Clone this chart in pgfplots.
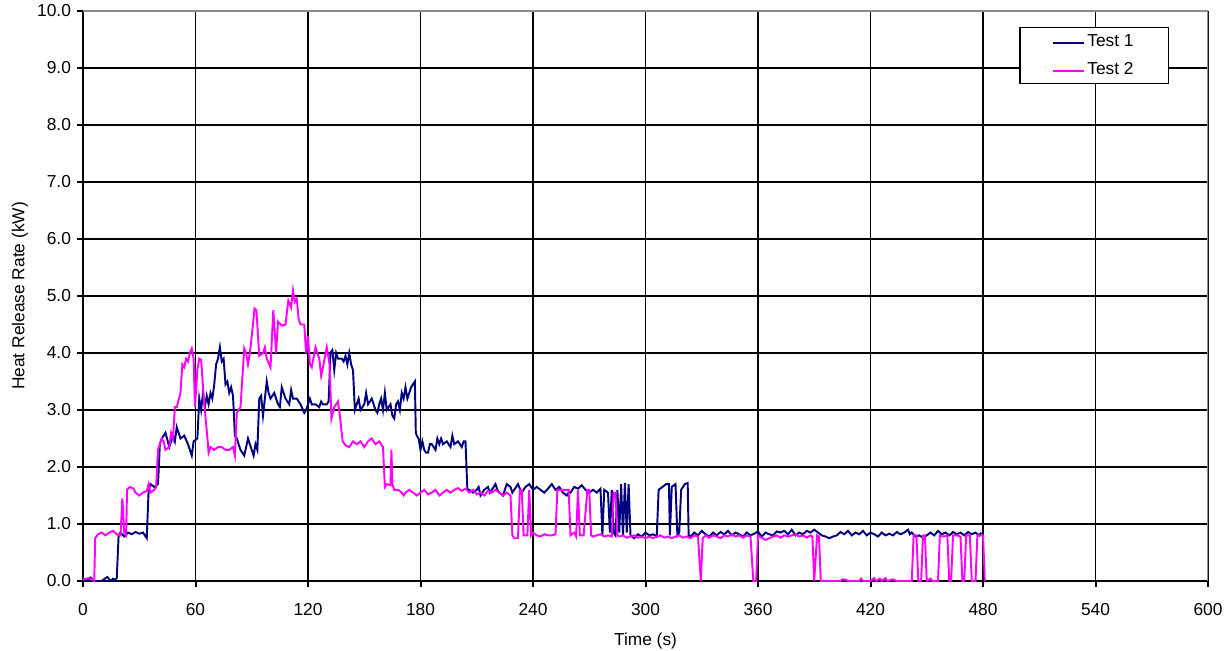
\documentclass[border=0pt]{standalone}
\usepackage{pgfplots}
\pgfplotsset{compat=1.18}
\usepackage{fontspec}
\setmainfont{Liberation Sans}
\definecolor{tnavy}{HTML}{000080}
\definecolor{tmag}{HTML}{FF00FF}
\begin{document}
\fontsize{13}{15.6}\selectfont
\begin{tikzpicture}
\begin{axis}[
  scale only axis,
  width=843.75pt, height=427.5pt,
  xmin=0, xmax=600, ymin=0, ymax=10,
  xtick={0,60,...,600}, ytick={0,1,...,10},
  axis x line*=bottom, axis y line*=left,
  axis line style={line width=1.5pt,-},
  tick align=outside, major tick length=4.5pt,
  tick style={line width=1.5pt,black},
  grid=major,
  major grid style={line width=0.9pt,black},
  /pgf/number format/assume math mode=true,
  yticklabel style={/pgf/number format/fixed,/pgf/number format/fixed zerofill,/pgf/number format/precision=1},
  xticklabel style={yshift=-7.5pt,/pgf/number format/fixed},
  every tick label/.append style={font=\fontsize{13}{15.6}\selectfont},
  xlabel={Time (s)}, ylabel={Heat Release Rate (kW)},
  xlabel style={yshift=-4pt},
  ylabel style={yshift=-2pt},
  label style={font=\fontsize{13}{15.6}\selectfont},
  legend style={at={(rel axis cs:0.9653,0.9719)}, anchor=north east,
    draw=black, line width=1.1pt, inner xsep=24pt, inner ysep=3pt, row sep=6pt,
    font=\fontsize{13}{15.6}\selectfont},
  legend cell align=left,
  legend image code/.code={\draw[#1] (0pt,-1pt) -- (23pt,-1pt);},
]
\addplot[tnavy, line width=1.45pt] coordinates {
(0,0) (3,0.02) (4,0.06) (5,0.03) (6,0) (10,0) (12,0.05) (13,0.07) (14,0.03) (15,0) (16,0.04) (17,0.02) (18,0.05)
(19,0.8) (20,0.85) (22,0.78) (24,0.85) (26,0.82) (28,0.86) (30,0.83) (32,0.85) (34,0.75)
(35,1.6) (36,1.7) (38,1.65) (40,1.7)
(41,2.4) (42,2.5) (44,2.6) (46,2.35) (48,2.55) (49,2.45) (50,2.7) (52,2.5) (54,2.55) (56,2.4) (58,2.2) (59,2.45) (61,2.5)
(62,3.2) (63,3.0) (64,3.3) (65,3.05) (66,3.25) (67,3.1) (68,3.3) (69,3.2) (70,3.45) (71,3.8) (72,3.9) (73,4.1) (74,3.85) (75,3.9) (76,3.45) (77,3.5) (78,3.3) (79,3.4) (80,3.25)
(81,2.55) (82,2.5) (84,2.3) (86,2.2) (88,2.5) (90,2.3) (91,2.2) (92,2.4) (93,2.3)
(94,3.2) (95,3.25) (96,2.9) (98,3.5) (99,3.3) (100,3.2) (102,3.3) (104,3.1) (105,3.05) (106,3.4) (108,3.2) (110,3.1) (111,3.35) (112,3.2) (114,3.2) (116,3.1) (118,2.95) (119,3.0) (120,3.1) (121,3.2) (122,3.1) (124,3.1) (126,3.05) (127,3.15) (128,3.1) (130,3.1) (131,3.15)
(132,4.0) (133,4.05) (134,3.7) (135,4.0) (136,3.9) (138,3.9) (139,3.85) (140,3.95) (141,3.8) (142,4.0) (143,3.8) (144,3.7)
(145,3.0) (146,3.1) (147,3.2) (148,3.0) (150,3.1) (151,3.3) (152,3.1) (154,3.2) (156,3.0) (157,2.95) (158,3.1) (159,3.2) (160,3.0) (161,3.3) (162,3.0) (164,3.1) (165,2.9) (166,2.85) (167,3.1) (168,3.15) (169,3.0) (170,3.3) (171,3.2) (172,3.4) (173,3.2) (174,3.3) (175,3.4) (176,3.45) (177,3.5)
(177.5,2.6) (178,2.55) (179,2.5) (180,2.3) (181,2.45) (182,2.3) (183,2.25) (184,2.25) (185,2.4) (186,2.4) (188,2.3) (189,2.5) (190,2.4) (191,2.5) (192,2.4) (194,2.45) (196,2.35) (197,2.55) (198,2.4) (200,2.45) (201,2.4) (202,2.35) (203,2.45) (204,2.45)
(205,1.6) (206,1.6) (208,1.55) (210,1.6) (211,1.65) (212,1.5) (214,1.6) (216,1.65) (217,1.55) (218,1.6) (220,1.7) (221,1.6) (222,1.55) (224,1.5) (226,1.7) (228,1.65) (229,1.55) (230,1.6) (232,1.7) (233,1.62) (234,1.55) (236,1.65) (238,1.7) (240,1.6) (242,1.65) (244,1.6) (246,1.55) (248,1.62) (250,1.7) (252,1.6) (254,1.65) (256,1.55) (258,1.5) (259,1.55) (260,1.55) (262,1.65) (264,1.62) (266,1.68) (268,1.6) (270,1.55) (272,1.6) (274,1.55) (276,1.62)
(277,0.8) (278,1.6) (280,1.55) (281,0.85) (282,1.6) (283,0.85) (284,0.8) (285,1.6) (286,0.85) (287,1.7) (288,0.8) (289,1.72) (290,0.85) (291,1.7) (292,0.8)
(294,0.75) (296,0.82) (298,0.78) (300,0.85) (302,0.8) (304,0.82) (306,0.78)
(307,1.6) (309,1.65) (311,1.7) (312.5,1.7) (313,0.8) (314,1.65) (316,1.7) (317,0.8) (318,0.85) (319,1.6) (321,1.7) (322.5,1.72) (323,0.8)
(324,0.78) (326,0.85) (328,0.8) (330,0.88) (332,0.82) (334,0.78) (336,0.85) (338,0.8) (340,0.86) (342,0.82) (344,0.88) (346,0.8) (348,0.85) (350,0.82) (352,0.78) (354,0.85) (356,0.8) (358,0.83) (360,0.87) (362,0.78) (364,0.85) (366,0.82) (368,0.8) (370,0.87) (372,0.85) (374,0.88) (376,0.82) (378,0.9) (380,0.8) (382,0.85) (384,0.82) (386,0.88) (388,0.85) (390,0.9) (392,0.85) (394,0.8) (396,0.78) (398,0.75) (400,0.78) (402,0.8) (404,0.86) (406,0.82) (408,0.88) (410,0.8) (412,0.85) (414,0.82) (416,0.88) (418,0.8) (420,0.85) (422,0.82) (424,0.78) (426,0.85) (428,0.8) (430,0.83) (432,0.8) (434,0.86) (436,0.82) (438,0.85) (440,0.9) (441,0.82) (442,0.85) (444,0.78) (446,0.8) (448,0.76) (450,0.8) (452,0.85) (454,0.8) (456,0.88) (458,0.82) (460,0.85) (462,0.8) (464,0.86) (466,0.82) (468,0.85) (470,0.8) (472,0.86) (474,0.82) (476,0.85) (478,0.8) (479,0.85)
};
\addlegendentry{Test 1}
\addplot[tmag, line width=1.45pt] coordinates {
(0,0.03) (3,0.05) (5,0.02) (6,0) (6.5,0.75) (8,0.82) (10,0.85) (12,0.8) (14,0.85) (16,0.88) (18,0.82) (20,0.8) (21,1.45) (22,0.85) (23,0.8)
(23.5,1.6) (25,1.65) (27,1.62) (28,1.55) (30,1.5) (32,1.55) (34,1.58) (35,1.7) (36,1.55) (38,1.6) (39,1.65)
(40,2.3) (41,2.4) (42,2.5) (43,2.45) (44,2.3) (46,2.35) (47,2.6) (48,2.5)
(49,3.05) (50,3.05) (52,3.3) (53,3.8) (54,3.75) (55,3.9) (56,3.85) (57,4.0) (58,4.08) (59,3.9) (59.7,3.05) (60,3.2) (61,3.7) (62,3.9) (63,3.88) (64,3.4) (65,3.0)
(66.5,2.45) (67,2.25) (68,2.35) (70,2.3) (72,2.35) (74,2.35) (76,2.3) (78,2.3) (80,2.35) (81,2.2)
(82,2.95) (84,3.05) (86,4.08) (87,4.0) (88,3.8) (89,4.0) (90,4.3) (91.5,4.78) (92.5,4.75) (94,3.95) (96,4.0) (97,4.1) (98,3.9) (100,3.75) (101.5,4.75) (103,4.0) (104,4.55) (106,4.48) (108,4.5) (109.5,4.92) (111,4.8) (112,5.1) (113,4.9) (114,4.95) (115,4.6) (116,4.5) (118,4.5) (119,4.0) (120,4.3) (121,3.8) (122,3.75) (124,4.1) (126,3.9) (127,3.6) (128,3.75) (130,4.1) (131.5,3.8)
(132.5,2.85) (134,3.05) (136,3.15) (137,2.9)
(138.5,2.45) (140,2.38) (142,2.35) (144,2.45) (146,2.4) (148,2.45) (150,2.35) (152,2.45) (154,2.5) (156,2.4) (158,2.45) (159,2.4) (160,2.35)
(161,1.65) (162,1.7) (164,1.68) (164.5,2.3) (165,1.7) (166,1.6) (168,1.6) (170,1.55) (171,1.5) (172,1.55) (174,1.6) (176,1.55) (178,1.5) (180,1.55) (182,1.6) (184,1.52) (186,1.55) (188,1.6) (190,1.5) (192,1.55) (194,1.6) (196,1.55) (198,1.6) (200,1.63) (202,1.58) (204,1.62) (206,1.55) (208,1.6) (210,1.52) (212,1.55) (214,1.5) (216,1.58) (218,1.55) (220,1.6) (222,1.55) (224,1.5) (226,1.55) (228,1.5)
(229,0.8) (230,0.75) (232,0.75) (233,1.6) (234,1.6) (235,0.8) (236,0.8) (237,0.8) (238,1.6) (239,0.8) (240,0.85) (242,0.8) (244,0.78) (246,0.82) (248,0.8) (250,0.8) (252,0.82)
(253,1.6) (256,1.6) (259,1.6) (260,0.8) (262,0.85) (263,0.78) (264,1.6) (265,0.8) (267,0.8) (269,1.6) (270,1.6) (271,0.8) (272,0.78) (274,0.8) (276,0.82) (278,0.78) (280,0.8) (282,0.78) (283,1.55) (284,1.55) (285,0.8)
(286,0.78) (288,0.8) (290,0.76) (292,0.78) (294,0.8) (296,0.76) (298,0.78) (300,0.75) (302,0.78) (304,0.75) (306,0.78) (308,0.8) (310,0.76) (312,0.78) (314,0.75) (316,0.78) (318,0.8) (320,0.76) (322,0.78) (324,0.75) (326,0.8) (328,0.78)
(329.5,0) (330.5,0.75) (332,0.8) (334,0.76) (336,0.8) (338,0.78) (340,0.75) (342,0.8) (344,0.78) (346,0.82) (348,0.78) (350,0.8) (352,0.76) (354,0.8) (356,0.78)
(357.5,0) (359,0) (360,0.8) (362,0.76) (364,0.72) (366,0.75) (368,0.78) (370,0.8) (372,0.76) (374,0.8) (376,0.78) (378,0.8) (380,0.82) (382,0.78) (384,0.8) (386,0.76) (388,0.8) (389,0.78)
(390,0) (391.5,0.8) (392.5,0.78) (393.5,0) (396,0) (400,0) (404,0) (405,0.03) (407,0.02) (408,0) (414,0) (415,0.04) (416,0) (420,0) (422,0.05) (423,0) (425,0.04) (426,0) (428,0.05) (429,0) (432,0.03) (434,0) (438,0) (442,0)
(443,0.8) (444.5,0.8) (445.5,0) (447,0) (448,0.8) (449,0.8) (450,0) (452,0.04) (453,0) (456,0)
(457,0.8) (459,0.78) (461,0.8) (462,0) (463,0) (464,0.8) (466,0.8) (468,0.78) (469,0) (470,0) (471,0.8) (473,0.8) (474,0) (476,0) (477,0.8) (479,0.8) (480,0.8) (481,0)
};
\addlegendentry{Test 2}
\draw[gray!90, line width=1.1pt] (rel axis cs:0,1) -- (rel axis cs:1,1) -- (rel axis cs:1,0);
\coordinate (BL) at (rel axis cs:0,0);
\coordinate (TR) at (rel axis cs:1,1);
\end{axis}
\pgfresetboundingbox
\path[use as bounding box] ([xshift=-62.25pt,yshift=-51.75pt]BL) rectangle ([xshift=18pt,yshift=8.25pt]TR);
\end{tikzpicture}
\end{document}
